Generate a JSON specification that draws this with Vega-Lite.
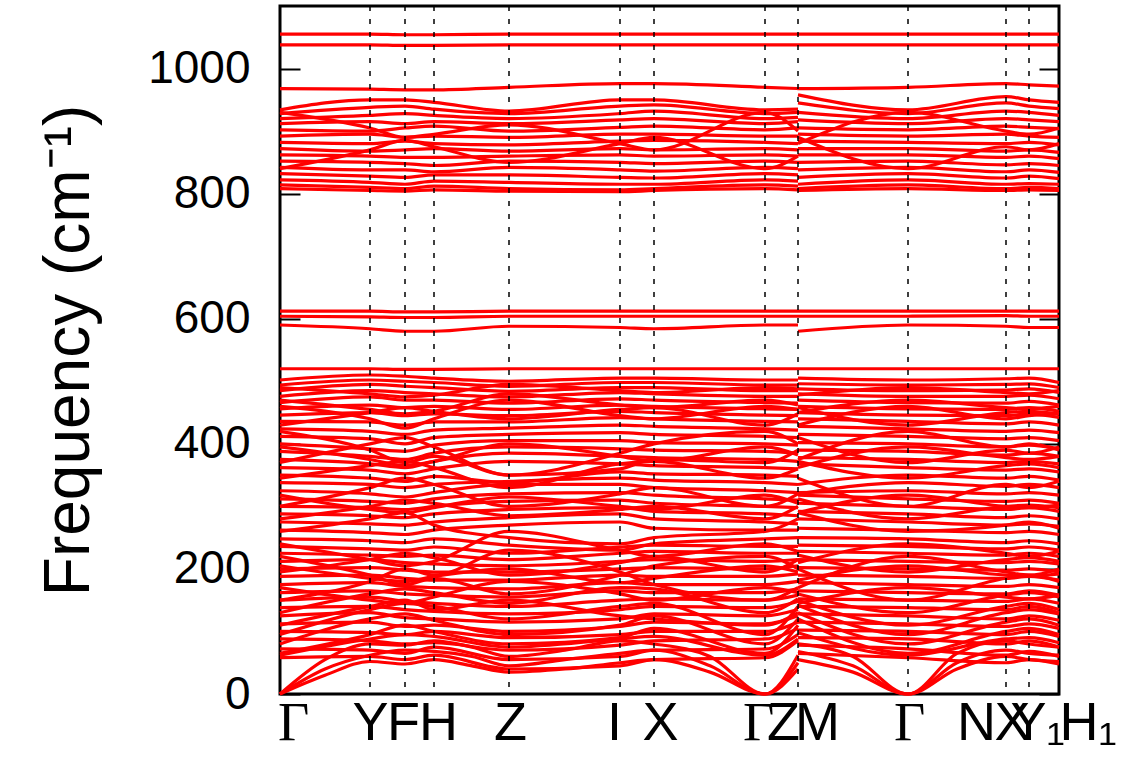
{
"$schema": "https://vega.github.io/schema/vega-lite/v6.json",
"width": 779,
"height": 688,
"autosize": {"type": "none"},
"padding": {"left": 280, "top": 6, "right": 66, "bottom": 74},
"background": "white",
"config": {"font": "Liberation Sans", "view": {"stroke": "black", "strokeWidth": 3}},
"datasets": {
"kp": [{"x":90},{"x":125},{"x":154},{"x":229},{"x":340},{"x":374},{"x":485},{"x":518},{"x":628},{"x":726},{"x":749}],
"bands": [
{"b":1,"x":0,"f":0},{"b":1,"x":45,"f":30},{"b":1,"x":90,"f":52},{"b":1,"x":125,"f":48},{"b":1,"x":154,"f":55},{"b":1,"x":192,"f":45},{"b":1,"x":229,"f":35},{"b":1,"x":285,"f":40},{"b":1,"x":340,"f":50},{"b":1,"x":374,"f":55},{"b":1,"x":430,"f":35},{"b":1,"x":485,"f":0},{"b":1,"x":518,"f":40},
{"b":101,"x":518,"f":55},{"b":101,"x":573,"f":35},{"b":101,"x":628,"f":0},{"b":101,"x":677,"f":40},{"b":101,"x":726,"f":60},{"b":101,"x":749,"f":55},{"b":101,"x":779,"f":52},
{"b":2,"x":0,"f":0},{"b":2,"x":45,"f":40},{"b":2,"x":90,"f":62},{"b":2,"x":125,"f":70},{"b":2,"x":154,"f":68},{"b":2,"x":192,"f":60},{"b":2,"x":229,"f":45},{"b":2,"x":285,"f":55},{"b":2,"x":340,"f":65},{"b":2,"x":374,"f":70},{"b":2,"x":430,"f":45},{"b":2,"x":485,"f":0},{"b":2,"x":518,"f":50},
{"b":102,"x":518,"f":68},{"b":102,"x":573,"f":45},{"b":102,"x":628,"f":0},{"b":102,"x":677,"f":50},{"b":102,"x":726,"f":70},{"b":102,"x":749,"f":65},{"b":102,"x":779,"f":62},
{"b":3,"x":0,"f":0},{"b":3,"x":45,"f":55},{"b":3,"x":90,"f":80},{"b":3,"x":125,"f":78},{"b":3,"x":154,"f":85},{"b":3,"x":192,"f":75},{"b":3,"x":229,"f":60},{"b":3,"x":285,"f":70},{"b":3,"x":340,"f":85},{"b":3,"x":374,"f":80},{"b":3,"x":430,"f":60},{"b":3,"x":485,"f":0},{"b":3,"x":518,"f":62},
{"b":103,"x":518,"f":80},{"b":103,"x":573,"f":60},{"b":103,"x":628,"f":0},{"b":103,"x":677,"f":65},{"b":103,"x":726,"f":85},{"b":103,"x":749,"f":80},{"b":103,"x":779,"f":75},
{"b":4,"x":0,"f":58},{"b":4,"x":90,"f":60},{"b":4,"x":125,"f":55},{"b":4,"x":154,"f":62},{"b":4,"x":229,"f":40},{"b":4,"x":340,"f":45},{"b":4,"x":374,"f":55},{"b":4,"x":485,"f":58},{"b":4,"x":518,"f":85},{"b":104,"x":518,"f":65},{"b":104,"x":628,"f":58},{"b":104,"x":726,"f":50},{"b":104,"x":749,"f":55},{"b":104,"x":779,"f":48},
{"b":5,"x":0,"f":72},{"b":5,"x":90,"f":70},{"b":5,"x":125,"f":65},{"b":5,"x":154,"f":75},{"b":5,"x":229,"f":55},{"b":5,"x":340,"f":60},{"b":5,"x":374,"f":70},{"b":5,"x":485,"f":72},{"b":5,"x":518,"f":95},{"b":105,"x":518,"f":78},{"b":105,"x":628,"f":72},{"b":105,"x":726,"f":62},{"b":105,"x":749,"f":68},{"b":105,"x":779,"f":60},
{"b":6,"x":0,"f":88},{"b":6,"x":90,"f":85},{"b":6,"x":125,"f":80},{"b":6,"x":154,"f":82},{"b":6,"x":229,"f":70},{"b":6,"x":340,"f":78},{"b":6,"x":374,"f":85},{"b":6,"x":485,"f":88},{"b":6,"x":518,"f":105},{"b":106,"x":518,"f":90},{"b":106,"x":628,"f":88},{"b":106,"x":726,"f":80},{"b":106,"x":749,"f":85},{"b":106,"x":779,"f":75},
{"b":7,"x":0,"f":100},{"b":7,"x":90,"f":98},{"b":7,"x":125,"f":95},{"b":7,"x":154,"f":100},{"b":7,"x":229,"f":90},{"b":7,"x":340,"f":95},{"b":7,"x":374,"f":100},{"b":7,"x":485,"f":100},{"b":7,"x":518,"f":115},{"b":107,"x":518,"f":102},{"b":107,"x":628,"f":100},{"b":107,"x":726,"f":95},{"b":107,"x":749,"f":100},{"b":107,"x":779,"f":92},
{"b":8,"x":0,"f":112},{"b":8,"x":90,"f":115},{"b":8,"x":125,"f":108},{"b":8,"x":154,"f":110},{"b":8,"x":229,"f":100},{"b":8,"x":340,"f":108},{"b":8,"x":374,"f":115},{"b":8,"x":485,"f":112},{"b":8,"x":518,"f":125},{"b":108,"x":518,"f":115},{"b":108,"x":628,"f":112},{"b":108,"x":726,"f":108},{"b":108,"x":749,"f":112},{"b":108,"x":779,"f":105},
{"b":9,"x":0,"f":125},{"b":9,"x":90,"f":130},{"b":9,"x":125,"f":122},{"b":9,"x":154,"f":120},{"b":9,"x":229,"f":115},{"b":9,"x":340,"f":120},{"b":9,"x":374,"f":128},{"b":9,"x":485,"f":125},{"b":9,"x":518,"f":135},{"b":109,"x":518,"f":128},{"b":109,"x":628,"f":125},{"b":109,"x":726,"f":120},{"b":109,"x":749,"f":125},{"b":109,"x":779,"f":118},
{"b":10,"x":0,"f":138},{"b":10,"x":90,"f":140},{"b":10,"x":125,"f":135},{"b":10,"x":154,"f":132},{"b":10,"x":229,"f":128},{"b":10,"x":340,"f":135},{"b":10,"x":374,"f":140},{"b":10,"x":485,"f":138},{"b":10,"x":518,"f":148},{"b":110,"x":518,"f":140},{"b":110,"x":628,"f":138},{"b":110,"x":726,"f":135},{"b":110,"x":749,"f":140},{"b":110,"x":779,"f":130},
{"b":11,"x":0,"f":150},{"b":11,"x":90,"f":155},{"b":11,"x":125,"f":148},{"b":11,"x":154,"f":145},{"b":11,"x":229,"f":140},{"b":11,"x":340,"f":150},{"b":11,"x":374,"f":152},{"b":11,"x":485,"f":150},{"b":11,"x":518,"f":158},{"b":111,"x":518,"f":152},{"b":111,"x":628,"f":150},{"b":111,"x":726,"f":148},{"b":111,"x":749,"f":152},{"b":111,"x":779,"f":145},
{"b":12,"x":0,"f":162},{"b":12,"x":90,"f":165},{"b":12,"x":125,"f":160},{"b":12,"x":154,"f":158},{"b":12,"x":229,"f":155},{"b":12,"x":340,"f":165},{"b":12,"x":374,"f":162},{"b":12,"x":485,"f":162},{"b":12,"x":518,"f":168},{"b":112,"x":518,"f":165},{"b":112,"x":628,"f":162},{"b":112,"x":726,"f":160},{"b":112,"x":749,"f":165},{"b":112,"x":779,"f":158},
{"b":13,"x":0,"f":175},{"b":13,"x":90,"f":178},{"b":13,"x":125,"f":172},{"b":13,"x":154,"f":170},{"b":13,"x":229,"f":168},{"b":13,"x":340,"f":178},{"b":13,"x":374,"f":175},{"b":13,"x":485,"f":175},{"b":13,"x":518,"f":180},{"b":113,"x":518,"f":178},{"b":113,"x":628,"f":175},{"b":113,"x":726,"f":172},{"b":113,"x":749,"f":175},{"b":113,"x":779,"f":170},
{"b":14,"x":0,"f":188},{"b":14,"x":90,"f":190},{"b":14,"x":125,"f":185},{"b":14,"x":154,"f":182},{"b":14,"x":229,"f":182},{"b":14,"x":340,"f":190},{"b":14,"x":374,"f":188},{"b":14,"x":485,"f":188},{"b":14,"x":518,"f":192},{"b":114,"x":518,"f":190},{"b":114,"x":628,"f":188},{"b":114,"x":726,"f":185},{"b":114,"x":749,"f":188},{"b":114,"x":779,"f":182},
{"b":15,"x":0,"f":200},{"b":15,"x":90,"f":202},{"b":15,"x":125,"f":198},{"b":15,"x":154,"f":195},{"b":15,"x":229,"f":195},{"b":15,"x":340,"f":200},{"b":15,"x":374,"f":202},{"b":15,"x":485,"f":200},{"b":15,"x":518,"f":205},{"b":115,"x":518,"f":202},{"b":115,"x":628,"f":200},{"b":115,"x":726,"f":198},{"b":115,"x":749,"f":200},{"b":115,"x":779,"f":195},
{"b":16,"x":0,"f":212},{"b":16,"x":90,"f":215},{"b":16,"x":125,"f":210},{"b":16,"x":154,"f":208},{"b":16,"x":229,"f":205},{"b":16,"x":340,"f":212},{"b":16,"x":374,"f":215},{"b":16,"x":485,"f":212},{"b":16,"x":518,"f":215},{"b":116,"x":518,"f":215},{"b":116,"x":628,"f":212},{"b":116,"x":726,"f":210},{"b":116,"x":749,"f":212},{"b":116,"x":779,"f":208},
{"b":17,"x":0,"f":225},{"b":17,"x":90,"f":222},{"b":17,"x":125,"f":220},{"b":17,"x":154,"f":222},{"b":17,"x":229,"f":215},{"b":17,"x":340,"f":225},{"b":17,"x":374,"f":228},{"b":17,"x":485,"f":225},{"b":17,"x":518,"f":225},{"b":117,"x":518,"f":228},{"b":117,"x":628,"f":225},{"b":117,"x":726,"f":222},{"b":117,"x":749,"f":225},{"b":117,"x":779,"f":220},
{"b":18,"x":0,"f":236},{"b":18,"x":90,"f":232},{"b":18,"x":125,"f":230},{"b":18,"x":154,"f":235},{"b":18,"x":229,"f":225},{"b":18,"x":340,"f":235},{"b":18,"x":374,"f":238},{"b":18,"x":485,"f":236},{"b":18,"x":518,"f":236},{"b":118,"x":518,"f":238},{"b":118,"x":628,"f":236},{"b":118,"x":726,"f":232},{"b":118,"x":749,"f":235},{"b":118,"x":779,"f":230},
{"b":19,"x":0,"f":248},{"b":19,"x":90,"f":245},{"b":19,"x":125,"f":242},{"b":19,"x":154,"f":248},{"b":19,"x":229,"f":238},{"b":19,"x":340,"f":230},{"b":19,"x":374,"f":240},{"b":19,"x":485,"f":248},{"b":19,"x":518,"f":250},{"b":119,"x":518,"f":250},{"b":119,"x":628,"f":248},{"b":119,"x":726,"f":242},{"b":119,"x":749,"f":245},{"b":119,"x":779,"f":240},
{"b":20,"x":0,"f":262},{"b":20,"x":90,"f":258},{"b":20,"x":125,"f":255},{"b":20,"x":154,"f":262},{"b":20,"x":229,"f":270},{"b":20,"x":340,"f":275},{"b":20,"x":374,"f":265},{"b":20,"x":485,"f":262},{"b":20,"x":518,"f":262},{"b":120,"x":518,"f":265},{"b":120,"x":628,"f":262},{"b":120,"x":726,"f":258},{"b":120,"x":749,"f":260},{"b":120,"x":779,"f":255},
{"b":21,"x":0,"f":275},{"b":21,"x":90,"f":272},{"b":21,"x":125,"f":270},{"b":21,"x":154,"f":275},{"b":21,"x":229,"f":282},{"b":21,"x":340,"f":288},{"b":21,"x":374,"f":280},{"b":21,"x":485,"f":275},{"b":21,"x":518,"f":272},{"b":121,"x":518,"f":280},{"b":121,"x":628,"f":275},{"b":121,"x":726,"f":270},{"b":121,"x":749,"f":272},{"b":121,"x":779,"f":268},
{"b":22,"x":0,"f":288},{"b":22,"x":90,"f":285},{"b":22,"x":125,"f":282},{"b":22,"x":154,"f":288},{"b":22,"x":229,"f":295},{"b":22,"x":340,"f":298},{"b":22,"x":374,"f":292},{"b":22,"x":485,"f":288},{"b":22,"x":518,"f":285},{"b":122,"x":518,"f":292},{"b":122,"x":628,"f":288},{"b":122,"x":726,"f":282},{"b":122,"x":749,"f":285},{"b":122,"x":779,"f":280},
{"b":23,"x":0,"f":300},{"b":23,"x":90,"f":298},{"b":23,"x":125,"f":295},{"b":23,"x":154,"f":300},{"b":23,"x":229,"f":308},{"b":23,"x":340,"f":310},{"b":23,"x":374,"f":305},{"b":23,"x":485,"f":300},{"b":23,"x":518,"f":298},{"b":123,"x":518,"f":305},{"b":123,"x":628,"f":300},{"b":123,"x":726,"f":295},{"b":123,"x":749,"f":298},{"b":123,"x":779,"f":292},
{"b":24,"x":0,"f":312},{"b":24,"x":90,"f":308},{"b":24,"x":125,"f":305},{"b":24,"x":154,"f":312},{"b":24,"x":229,"f":320},{"b":24,"x":340,"f":322},{"b":24,"x":374,"f":318},{"b":24,"x":485,"f":312},{"b":24,"x":518,"f":310},{"b":124,"x":518,"f":318},{"b":124,"x":628,"f":312},{"b":124,"x":726,"f":308},{"b":124,"x":749,"f":310},{"b":124,"x":779,"f":305},
{"b":25,"x":0,"f":325},{"b":25,"x":90,"f":320},{"b":25,"x":125,"f":315},{"b":25,"x":154,"f":322},{"b":25,"x":229,"f":335},{"b":25,"x":340,"f":335},{"b":25,"x":374,"f":330},{"b":25,"x":485,"f":325},{"b":25,"x":518,"f":322},{"b":125,"x":518,"f":322},{"b":125,"x":628,"f":325},{"b":125,"x":726,"f":320},{"b":125,"x":749,"f":322},{"b":125,"x":779,"f":318},
{"b":26,"x":0,"f":338},{"b":26,"x":90,"f":335},{"b":26,"x":125,"f":330},{"b":26,"x":154,"f":335},{"b":26,"x":229,"f":340},{"b":26,"x":340,"f":345},{"b":26,"x":374,"f":342},{"b":26,"x":485,"f":338},{"b":26,"x":518,"f":335},{"b":126,"x":518,"f":320},{"b":126,"x":628,"f":338},{"b":126,"x":726,"f":332},{"b":126,"x":749,"f":335},{"b":126,"x":779,"f":330},
{"b":27,"x":0,"f":350},{"b":27,"x":90,"f":345},{"b":27,"x":125,"f":340},{"b":27,"x":154,"f":348},{"b":27,"x":229,"f":338},{"b":27,"x":340,"f":355},{"b":27,"x":374,"f":352},{"b":27,"x":485,"f":350},{"b":27,"x":518,"f":348},{"b":127,"x":518,"f":335},{"b":127,"x":628,"f":350},{"b":127,"x":726,"f":345},{"b":127,"x":749,"f":348},{"b":127,"x":779,"f":342},
{"b":28,"x":0,"f":362},{"b":28,"x":90,"f":358},{"b":28,"x":125,"f":352},{"b":28,"x":154,"f":360},{"b":28,"x":229,"f":372},{"b":28,"x":340,"f":368},{"b":28,"x":374,"f":365},{"b":28,"x":485,"f":362},{"b":28,"x":518,"f":360},{"b":128,"x":518,"f":368},{"b":128,"x":628,"f":362},{"b":128,"x":726,"f":358},{"b":128,"x":749,"f":360},{"b":128,"x":779,"f":355},
{"b":29,"x":0,"f":375},{"b":29,"x":90,"f":368},{"b":29,"x":125,"f":362},{"b":29,"x":154,"f":372},{"b":29,"x":229,"f":385},{"b":29,"x":340,"f":380},{"b":29,"x":374,"f":378},{"b":29,"x":485,"f":375},{"b":29,"x":518,"f":372},{"b":129,"x":518,"f":378},{"b":129,"x":628,"f":375},{"b":129,"x":726,"f":370},{"b":129,"x":749,"f":372},{"b":129,"x":779,"f":368},
{"b":30,"x":0,"f":388},{"b":30,"x":90,"f":380},{"b":30,"x":125,"f":375},{"b":30,"x":154,"f":385},{"b":30,"x":229,"f":395},{"b":30,"x":340,"f":392},{"b":30,"x":374,"f":390},{"b":30,"x":485,"f":388},{"b":30,"x":518,"f":385},{"b":130,"x":518,"f":390},{"b":130,"x":628,"f":388},{"b":130,"x":726,"f":382},{"b":130,"x":749,"f":385},{"b":130,"x":779,"f":380},
{"b":31,"x":0,"f":400},{"b":31,"x":90,"f":392},{"b":31,"x":125,"f":388},{"b":31,"x":154,"f":398},{"b":31,"x":229,"f":405},{"b":31,"x":340,"f":405},{"b":31,"x":374,"f":402},{"b":31,"x":485,"f":400},{"b":31,"x":518,"f":398},{"b":131,"x":518,"f":402},{"b":131,"x":628,"f":400},{"b":131,"x":726,"f":395},{"b":131,"x":749,"f":398},{"b":131,"x":779,"f":392},
{"b":32,"x":0,"f":412},{"b":32,"x":90,"f":408},{"b":32,"x":125,"f":400},{"b":32,"x":154,"f":410},{"b":32,"x":229,"f":415},{"b":32,"x":340,"f":418},{"b":32,"x":374,"f":415},{"b":32,"x":485,"f":412},{"b":32,"x":518,"f":410},{"b":132,"x":518,"f":415},{"b":132,"x":628,"f":412},{"b":132,"x":726,"f":408},{"b":132,"x":749,"f":410},{"b":132,"x":779,"f":405},
{"b":33,"x":0,"f":424},{"b":33,"x":90,"f":420},{"b":33,"x":125,"f":415},{"b":33,"x":154,"f":422},{"b":33,"x":229,"f":425},{"b":33,"x":340,"f":430},{"b":33,"x":374,"f":428},{"b":33,"x":485,"f":424},{"b":33,"x":518,"f":422},{"b":133,"x":518,"f":428},{"b":133,"x":628,"f":424},{"b":133,"x":726,"f":420},{"b":133,"x":749,"f":422},{"b":133,"x":779,"f":418},
{"b":34,"x":0,"f":436},{"b":34,"x":90,"f":435},{"b":34,"x":125,"f":430},{"b":34,"x":154,"f":435},{"b":34,"x":229,"f":435},{"b":34,"x":340,"f":442},{"b":34,"x":374,"f":440},{"b":34,"x":485,"f":436},{"b":34,"x":518,"f":435},{"b":134,"x":518,"f":440},{"b":134,"x":628,"f":436},{"b":134,"x":726,"f":432},{"b":134,"x":749,"f":435},{"b":134,"x":779,"f":430},
{"b":35,"x":0,"f":446},{"b":35,"x":90,"f":450},{"b":35,"x":125,"f":445},{"b":35,"x":154,"f":448},{"b":35,"x":229,"f":445},{"b":35,"x":340,"f":452},{"b":35,"x":374,"f":450},{"b":35,"x":485,"f":446},{"b":35,"x":518,"f":445},{"b":135,"x":518,"f":450},{"b":135,"x":628,"f":446},{"b":135,"x":726,"f":445},{"b":135,"x":749,"f":448},{"b":135,"x":779,"f":442},
{"b":36,"x":0,"f":456},{"b":36,"x":90,"f":462},{"b":36,"x":125,"f":458},{"b":36,"x":154,"f":460},{"b":36,"x":229,"f":455},{"b":36,"x":340,"f":462},{"b":36,"x":374,"f":460},{"b":36,"x":485,"f":456},{"b":36,"x":518,"f":455},{"b":136,"x":518,"f":460},{"b":136,"x":628,"f":456},{"b":136,"x":726,"f":455},{"b":136,"x":749,"f":458},{"b":136,"x":779,"f":452},
{"b":37,"x":0,"f":466},{"b":37,"x":90,"f":475},{"b":37,"x":125,"f":470},{"b":37,"x":154,"f":470},{"b":37,"x":229,"f":465},{"b":37,"x":340,"f":472},{"b":37,"x":374,"f":470},{"b":37,"x":485,"f":466},{"b":37,"x":518,"f":465},{"b":137,"x":518,"f":470},{"b":137,"x":628,"f":466},{"b":137,"x":726,"f":465},{"b":137,"x":749,"f":468},{"b":137,"x":779,"f":462},
{"b":38,"x":0,"f":476},{"b":38,"x":90,"f":485},{"b":38,"x":125,"f":482},{"b":38,"x":154,"f":480},{"b":38,"x":229,"f":475},{"b":38,"x":340,"f":482},{"b":38,"x":374,"f":480},{"b":38,"x":485,"f":476},{"b":38,"x":518,"f":476},{"b":138,"x":518,"f":480},{"b":138,"x":628,"f":476},{"b":138,"x":726,"f":476},{"b":138,"x":749,"f":478},{"b":138,"x":779,"f":472},
{"b":39,"x":0,"f":485},{"b":39,"x":90,"f":495},{"b":39,"x":125,"f":492},{"b":39,"x":154,"f":490},{"b":39,"x":229,"f":484},{"b":39,"x":340,"f":490},{"b":39,"x":374,"f":490},{"b":39,"x":485,"f":485},{"b":39,"x":518,"f":485},{"b":139,"x":518,"f":488},{"b":139,"x":628,"f":485},{"b":139,"x":726,"f":486},{"b":139,"x":749,"f":488},{"b":139,"x":779,"f":482},
{"b":40,"x":0,"f":494},{"b":40,"x":90,"f":502},{"b":40,"x":125,"f":500},{"b":40,"x":154,"f":498},{"b":40,"x":229,"f":492},{"b":40,"x":340,"f":498},{"b":40,"x":374,"f":498},{"b":40,"x":485,"f":494},{"b":40,"x":518,"f":494},{"b":140,"x":518,"f":496},{"b":140,"x":628,"f":494},{"b":140,"x":726,"f":495},{"b":140,"x":749,"f":496},{"b":140,"x":779,"f":490},
{"b":41,"x":0,"f":502},{"b":41,"x":90,"f":510},{"b":41,"x":125,"f":508},{"b":41,"x":154,"f":505},{"b":41,"x":229,"f":500},{"b":41,"x":340,"f":505},{"b":41,"x":374,"f":505},{"b":41,"x":485,"f":502},{"b":41,"x":518,"f":502},{"b":141,"x":518,"f":505},{"b":141,"x":628,"f":502},{"b":141,"x":726,"f":504},{"b":141,"x":749,"f":505},{"b":141,"x":779,"f":498},
{"b":42,"x":0,"f":150},{"b":42,"x":90,"f":180},{"b":42,"x":125,"f":200},{"b":42,"x":154,"f":190},{"b":42,"x":229,"f":230},{"b":42,"x":340,"f":195},{"b":42,"x":374,"f":175},{"b":42,"x":485,"f":150},{"b":42,"x":518,"f":170},{"b":142,"x":518,"f":200},{"b":142,"x":628,"f":150},{"b":142,"x":726,"f":185},{"b":142,"x":749,"f":190},{"b":142,"x":779,"f":180},
{"b":43,"x":0,"f":220},{"b":43,"x":90,"f":190},{"b":43,"x":125,"f":175},{"b":43,"x":154,"f":185},{"b":43,"x":229,"f":160},{"b":43,"x":340,"f":190},{"b":43,"x":374,"f":205},{"b":43,"x":485,"f":220},{"b":43,"x":518,"f":200},{"b":143,"x":518,"f":170},{"b":143,"x":628,"f":220},{"b":143,"x":726,"f":195},{"b":143,"x":749,"f":190},{"b":143,"x":779,"f":200},
{"b":44,"x":0,"f":300},{"b":44,"x":90,"f":330},{"b":44,"x":125,"f":345},{"b":44,"x":154,"f":335},{"b":44,"x":229,"f":300},{"b":44,"x":340,"f":320},{"b":44,"x":374,"f":330},{"b":44,"x":485,"f":300},{"b":44,"x":518,"f":320},{"b":144,"x":518,"f":345},{"b":144,"x":628,"f":300},{"b":144,"x":726,"f":335},{"b":144,"x":749,"f":330},{"b":144,"x":779,"f":340},
{"b":45,"x":0,"f":420},{"b":45,"x":90,"f":390},{"b":45,"x":125,"f":370},{"b":45,"x":154,"f":380},{"b":45,"x":229,"f":350},{"b":45,"x":340,"f":385},{"b":45,"x":374,"f":400},{"b":45,"x":485,"f":420},{"b":45,"x":518,"f":400},{"b":145,"x":518,"f":375},{"b":145,"x":628,"f":420},{"b":145,"x":726,"f":395},{"b":145,"x":749,"f":400},{"b":145,"x":779,"f":390},
{"b":46,"x":0,"f":110},{"b":46,"x":90,"f":140},{"b":46,"x":125,"f":150},{"b":46,"x":154,"f":135},{"b":46,"x":229,"f":150},{"b":46,"x":340,"f":125},{"b":46,"x":374,"f":120},{"b":46,"x":485,"f":110},{"b":46,"x":518,"f":130},{"b":146,"x":518,"f":150},{"b":146,"x":628,"f":110},{"b":146,"x":726,"f":140},{"b":146,"x":749,"f":145},{"b":146,"x":779,"f":135},
{"b":47,"x":0,"f":460},{"b":47,"x":90,"f":440},{"b":47,"x":125,"f":425},{"b":47,"x":154,"f":440},{"b":47,"x":229,"f":470},{"b":47,"x":340,"f":445},{"b":47,"x":374,"f":440},{"b":47,"x":485,"f":460},{"b":47,"x":518,"f":455},{"b":147,"x":518,"f":430},{"b":147,"x":628,"f":460},{"b":147,"x":726,"f":440},{"b":147,"x":749,"f":445},{"b":147,"x":779,"f":448},
{"b":48,"x":0,"f":370},{"b":48,"x":90,"f":400},{"b":48,"x":125,"f":410},{"b":48,"x":154,"f":395},{"b":48,"x":229,"f":350},{"b":48,"x":340,"f":360},{"b":48,"x":374,"f":375},{"b":48,"x":485,"f":370},{"b":48,"x":518,"f":390},{"b":148,"x":518,"f":410},{"b":148,"x":628,"f":370},{"b":148,"x":726,"f":390},{"b":148,"x":749,"f":385},{"b":148,"x":779,"f":395},
{"b":49,"x":0,"f":260},{"b":49,"x":90,"f":280},{"b":49,"x":125,"f":290},{"b":49,"x":154,"f":270},{"b":49,"x":229,"f":250},{"b":49,"x":340,"f":240},{"b":49,"x":374,"f":250},{"b":49,"x":485,"f":260},{"b":49,"x":518,"f":280},{"b":149,"x":518,"f":290},{"b":149,"x":628,"f":260},{"b":149,"x":726,"f":270},{"b":149,"x":749,"f":275},{"b":149,"x":779,"f":265},
{"b":50,"x":0,"f":612},{"b":50,"x":90,"f":612},{"b":50,"x":125,"f":611},{"b":50,"x":154,"f":611},{"b":50,"x":229,"f":612},{"b":50,"x":340,"f":612},{"b":50,"x":374,"f":612},{"b":50,"x":485,"f":612},{"b":50,"x":518,"f":612},{"b":150,"x":518,"f":612},{"b":150,"x":628,"f":612},{"b":150,"x":726,"f":612},{"b":150,"x":749,"f":612},{"b":150,"x":779,"f":612},
{"b":51,"x":0,"f":604},{"b":51,"x":90,"f":603},{"b":51,"x":125,"f":602},{"b":51,"x":154,"f":602},{"b":51,"x":229,"f":604},{"b":51,"x":340,"f":604},{"b":51,"x":374,"f":604},{"b":51,"x":485,"f":604},{"b":51,"x":518,"f":604},{"b":151,"x":518,"f":604},{"b":151,"x":628,"f":604},{"b":151,"x":726,"f":605},{"b":151,"x":749,"f":604},{"b":151,"x":779,"f":604},
{"b":52,"x":0,"f":590},{"b":52,"x":90,"f":584},{"b":52,"x":125,"f":580},{"b":52,"x":154,"f":580},{"b":52,"x":229,"f":588},{"b":52,"x":340,"f":586},{"b":52,"x":374,"f":584},{"b":52,"x":485,"f":590},{"b":52,"x":518,"f":590},{"b":152,"x":518,"f":580},{"b":152,"x":628,"f":590},{"b":152,"x":726,"f":588},{"b":152,"x":749,"f":586},{"b":152,"x":779,"f":586},
{"b":53,"x":0,"f":520},{"b":53,"x":90,"f":520},{"b":53,"x":125,"f":519},{"b":53,"x":154,"f":519},{"b":53,"x":229,"f":520},{"b":53,"x":340,"f":520},{"b":53,"x":374,"f":520},{"b":53,"x":485,"f":520},{"b":53,"x":518,"f":520},{"b":153,"x":518,"f":520},{"b":153,"x":628,"f":520},{"b":153,"x":726,"f":520},{"b":153,"x":749,"f":520},{"b":153,"x":779,"f":520},
{"b":54,"x":0,"f":1055},{"b":54,"x":90,"f":1055},{"b":54,"x":125,"f":1054},{"b":54,"x":154,"f":1054},{"b":54,"x":229,"f":1055},{"b":54,"x":340,"f":1055},{"b":54,"x":374,"f":1055},{"b":54,"x":485,"f":1055},{"b":54,"x":518,"f":1055},{"b":154,"x":518,"f":1055},{"b":154,"x":628,"f":1055},{"b":154,"x":726,"f":1055},{"b":154,"x":749,"f":1055},{"b":154,"x":779,"f":1055},
{"b":55,"x":0,"f":1038},{"b":55,"x":90,"f":1038},{"b":55,"x":125,"f":1037},{"b":55,"x":154,"f":1037},{"b":55,"x":229,"f":1038},{"b":55,"x":340,"f":1038},{"b":55,"x":374,"f":1038},{"b":55,"x":485,"f":1038},{"b":55,"x":518,"f":1038},{"b":155,"x":518,"f":1038},{"b":155,"x":628,"f":1038},{"b":155,"x":726,"f":1038},{"b":155,"x":749,"f":1038},{"b":155,"x":779,"f":1038},
{"b":56,"x":0,"f":968},{"b":56,"x":90,"f":967},{"b":56,"x":125,"f":966},{"b":56,"x":154,"f":966},{"b":56,"x":229,"f":970},{"b":56,"x":340,"f":976},{"b":56,"x":374,"f":976},{"b":56,"x":485,"f":970},{"b":56,"x":518,"f":968},{"b":156,"x":518,"f":968},{"b":156,"x":628,"f":970},{"b":156,"x":726,"f":976},{"b":156,"x":749,"f":974},{"b":156,"x":779,"f":972},
{"b":57,"x":0,"f":934},{"b":57,"x":90,"f":950},{"b":57,"x":125,"f":950},{"b":57,"x":154,"f":946},{"b":57,"x":229,"f":932},{"b":57,"x":340,"f":950},{"b":57,"x":374,"f":950},{"b":57,"x":485,"f":934},{"b":57,"x":518,"f":935},{"b":157,"x":518,"f":958},{"b":157,"x":628,"f":934},{"b":157,"x":726,"f":955},{"b":157,"x":749,"f":950},{"b":157,"x":779,"f":946},
{"b":58,"x":0,"f":928},{"b":58,"x":90,"f":938},{"b":58,"x":125,"f":940},{"b":58,"x":154,"f":935},{"b":58,"x":229,"f":928},{"b":58,"x":340,"f":940},{"b":58,"x":374,"f":942},{"b":58,"x":485,"f":928},{"b":58,"x":518,"f":930},{"b":158,"x":518,"f":945},{"b":158,"x":628,"f":928},{"b":158,"x":726,"f":945},{"b":158,"x":749,"f":940},{"b":158,"x":779,"f":936},
{"b":59,"x":0,"f":920},{"b":59,"x":90,"f":925},{"b":59,"x":125,"f":928},{"b":59,"x":154,"f":925},{"b":59,"x":229,"f":920},{"b":59,"x":340,"f":928},{"b":59,"x":374,"f":932},{"b":59,"x":485,"f":920},{"b":59,"x":518,"f":922},{"b":159,"x":518,"f":930},{"b":159,"x":628,"f":920},{"b":159,"x":726,"f":932},{"b":159,"x":749,"f":930},{"b":159,"x":779,"f":925},
{"b":60,"x":0,"f":912},{"b":60,"x":90,"f":915},{"b":60,"x":125,"f":912},{"b":60,"x":154,"f":915},{"b":60,"x":229,"f":912},{"b":60,"x":340,"f":918},{"b":60,"x":374,"f":920},{"b":60,"x":485,"f":912},{"b":60,"x":518,"f":915},{"b":160,"x":518,"f":918},{"b":160,"x":628,"f":912},{"b":160,"x":726,"f":920},{"b":160,"x":749,"f":918},{"b":160,"x":779,"f":915},
{"b":61,"x":0,"f":902},{"b":61,"x":90,"f":900},{"b":61,"x":125,"f":905},{"b":61,"x":154,"f":908},{"b":61,"x":229,"f":900},{"b":61,"x":340,"f":906},{"b":61,"x":374,"f":908},{"b":61,"x":485,"f":902},{"b":61,"x":518,"f":905},{"b":161,"x":518,"f":905},{"b":161,"x":628,"f":902},{"b":161,"x":726,"f":908},{"b":161,"x":749,"f":906},{"b":161,"x":779,"f":904},
{"b":62,"x":0,"f":892},{"b":62,"x":90,"f":895},{"b":62,"x":125,"f":890},{"b":62,"x":154,"f":892},{"b":62,"x":229,"f":890},{"b":62,"x":340,"f":895},{"b":62,"x":374,"f":895},{"b":62,"x":485,"f":892},{"b":62,"x":518,"f":892},{"b":162,"x":518,"f":895},{"b":162,"x":628,"f":892},{"b":162,"x":726,"f":895},{"b":162,"x":749,"f":892},{"b":162,"x":779,"f":890},
{"b":63,"x":0,"f":882},{"b":63,"x":90,"f":880},{"b":63,"x":125,"f":884},{"b":63,"x":154,"f":880},{"b":63,"x":229,"f":878},{"b":63,"x":340,"f":884},{"b":63,"x":374,"f":885},{"b":63,"x":485,"f":882},{"b":63,"x":518,"f":880},{"b":163,"x":518,"f":884},{"b":163,"x":628,"f":882},{"b":163,"x":726,"f":880},{"b":163,"x":749,"f":882},{"b":163,"x":779,"f":878},
{"b":64,"x":0,"f":872},{"b":64,"x":90,"f":868},{"b":64,"x":125,"f":870},{"b":64,"x":154,"f":872},{"b":64,"x":229,"f":868},{"b":64,"x":340,"f":872},{"b":64,"x":374,"f":870},{"b":64,"x":485,"f":872},{"b":64,"x":518,"f":870},{"b":164,"x":518,"f":872},{"b":164,"x":628,"f":872},{"b":164,"x":726,"f":868},{"b":164,"x":749,"f":870},{"b":164,"x":779,"f":866},
{"b":65,"x":0,"f":862},{"b":65,"x":90,"f":860},{"b":65,"x":125,"f":858},{"b":65,"x":154,"f":858},{"b":65,"x":229,"f":860},{"b":65,"x":340,"f":862},{"b":65,"x":374,"f":860},{"b":65,"x":485,"f":862},{"b":65,"x":518,"f":860},{"b":165,"x":518,"f":862},{"b":165,"x":628,"f":862},{"b":165,"x":726,"f":858},{"b":165,"x":749,"f":860},{"b":165,"x":779,"f":856},
{"b":66,"x":0,"f":852},{"b":66,"x":90,"f":850},{"b":66,"x":125,"f":848},{"b":66,"x":154,"f":845},{"b":66,"x":229,"f":852},{"b":66,"x":340,"f":850},{"b":66,"x":374,"f":848},{"b":66,"x":485,"f":852},{"b":66,"x":518,"f":850},{"b":166,"x":518,"f":850},{"b":166,"x":628,"f":852},{"b":166,"x":726,"f":846},{"b":166,"x":749,"f":848},{"b":166,"x":779,"f":845},
{"b":67,"x":0,"f":842},{"b":67,"x":90,"f":838},{"b":67,"x":125,"f":838},{"b":67,"x":154,"f":835},{"b":67,"x":229,"f":842},{"b":67,"x":340,"f":838},{"b":67,"x":374,"f":836},{"b":67,"x":485,"f":842},{"b":67,"x":518,"f":840},{"b":167,"x":518,"f":838},{"b":167,"x":628,"f":842},{"b":167,"x":726,"f":835},{"b":167,"x":749,"f":838},{"b":167,"x":779,"f":834},
{"b":68,"x":0,"f":832},{"b":68,"x":90,"f":828},{"b":68,"x":125,"f":826},{"b":68,"x":154,"f":830},{"b":68,"x":229,"f":830},{"b":68,"x":340,"f":826},{"b":68,"x":374,"f":825},{"b":68,"x":485,"f":832},{"b":68,"x":518,"f":830},{"b":168,"x":518,"f":826},{"b":168,"x":628,"f":832},{"b":168,"x":726,"f":825},{"b":168,"x":749,"f":828},{"b":168,"x":779,"f":824},
{"b":69,"x":0,"f":822},{"b":69,"x":90,"f":818},{"b":69,"x":125,"f":815},{"b":69,"x":154,"f":820},{"b":69,"x":229,"f":818},{"b":69,"x":340,"f":815},{"b":69,"x":374,"f":815},{"b":69,"x":485,"f":822},{"b":69,"x":518,"f":820},{"b":169,"x":518,"f":815},{"b":169,"x":628,"f":822},{"b":169,"x":726,"f":815},{"b":169,"x":749,"f":816},{"b":169,"x":779,"f":815},
{"b":70,"x":0,"f":814},{"b":70,"x":90,"f":810},{"b":70,"x":125,"f":808},{"b":70,"x":154,"f":812},{"b":70,"x":229,"f":808},{"b":70,"x":340,"f":806},{"b":70,"x":374,"f":808},{"b":70,"x":485,"f":814},{"b":70,"x":518,"f":812},{"b":170,"x":518,"f":808},{"b":170,"x":628,"f":814},{"b":170,"x":726,"f":808},{"b":170,"x":749,"f":810},{"b":170,"x":779,"f":808},
{"b":71,"x":0,"f":808},{"b":71,"x":90,"f":805},{"b":71,"x":125,"f":804},{"b":71,"x":154,"f":806},{"b":71,"x":229,"f":804},{"b":71,"x":340,"f":803},{"b":71,"x":374,"f":805},{"b":71,"x":485,"f":808},{"b":71,"x":518,"f":806},{"b":171,"x":518,"f":805},{"b":171,"x":628,"f":808},{"b":171,"x":726,"f":805},{"b":171,"x":749,"f":806},{"b":171,"x":779,"f":805},
{"b":72,"x":0,"f":930},{"b":72,"x":90,"f":905},{"b":72,"x":125,"f":890},{"b":72,"x":154,"f":895},{"b":72,"x":229,"f":910},{"b":72,"x":340,"f":880},{"b":72,"x":374,"f":870},{"b":72,"x":485,"f":930},{"b":72,"x":518,"f":900},{"b":172,"x":518,"f":880},{"b":172,"x":628,"f":930},{"b":172,"x":726,"f":900},{"b":172,"x":749,"f":895},{"b":172,"x":779,"f":905},
{"b":73,"x":0,"f":840},{"b":73,"x":90,"f":870},{"b":73,"x":125,"f":885},{"b":73,"x":154,"f":875},{"b":73,"x":229,"f":850},{"b":73,"x":340,"f":880},{"b":73,"x":374,"f":890},{"b":73,"x":485,"f":840},{"b":73,"x":518,"f":860},{"b":173,"x":518,"f":890},{"b":173,"x":628,"f":840},{"b":173,"x":726,"f":875},{"b":173,"x":749,"f":870},{"b":173,"x":779,"f":880},
{"b":74,"x":0,"f":65},{"b":74,"x":90,"f":95},{"b":74,"x":125,"f":110},{"b":74,"x":154,"f":100},{"b":74,"x":229,"f":80},{"b":74,"x":340,"f":90},{"b":74,"x":374,"f":105},{"b":74,"x":485,"f":65},{"b":74,"x":518,"f":110},{"b":174,"x":518,"f":120},{"b":174,"x":628,"f":65},{"b":174,"x":726,"f":100},{"b":174,"x":749,"f":105},{"b":174,"x":779,"f":95},
{"b":75,"x":0,"f":80},{"b":75,"x":90,"f":120},{"b":75,"x":125,"f":128},{"b":75,"x":154,"f":118},{"b":75,"x":229,"f":95},{"b":75,"x":340,"f":110},{"b":75,"x":374,"f":125},{"b":75,"x":485,"f":80},{"b":75,"x":518,"f":120},{"b":175,"x":518,"f":130},{"b":175,"x":628,"f":80},{"b":175,"x":726,"f":115},{"b":175,"x":749,"f":120},{"b":175,"x":779,"f":110},
{"b":76,"x":0,"f":95},{"b":76,"x":90,"f":135},{"b":76,"x":125,"f":145},{"b":76,"x":154,"f":140},{"b":76,"x":229,"f":120},{"b":76,"x":340,"f":140},{"b":76,"x":374,"f":145},{"b":76,"x":485,"f":95},{"b":76,"x":518,"f":140},{"b":176,"x":518,"f":142},{"b":176,"x":628,"f":95},{"b":176,"x":726,"f":130},{"b":176,"x":749,"f":135},{"b":176,"x":779,"f":128},
{"b":77,"x":0,"f":130},{"b":77,"x":90,"f":160},{"b":77,"x":125,"f":168},{"b":77,"x":154,"f":162},{"b":77,"x":229,"f":145},{"b":77,"x":340,"f":170},{"b":77,"x":374,"f":168},{"b":77,"x":485,"f":130},{"b":77,"x":518,"f":152},{"b":177,"x":518,"f":160},{"b":177,"x":628,"f":130},{"b":177,"x":726,"f":158},{"b":177,"x":749,"f":162},{"b":177,"x":779,"f":155},
{"b":78,"x":0,"f":170},{"b":78,"x":90,"f":150},{"b":78,"x":125,"f":145},{"b":78,"x":154,"f":155},{"b":78,"x":229,"f":180},{"b":78,"x":340,"f":160},{"b":78,"x":374,"f":150},{"b":78,"x":485,"f":170},{"b":78,"x":518,"f":162},{"b":178,"x":518,"f":145},{"b":178,"x":628,"f":170},{"b":178,"x":726,"f":155},{"b":178,"x":749,"f":152},{"b":178,"x":779,"f":158},
{"b":79,"x":0,"f":195},{"b":79,"x":90,"f":215},{"b":79,"x":125,"f":225},{"b":79,"x":154,"f":218},{"b":79,"x":229,"f":190},{"b":79,"x":340,"f":210},{"b":79,"x":374,"f":220},{"b":79,"x":485,"f":195},{"b":79,"x":518,"f":215},{"b":179,"x":518,"f":222},{"b":179,"x":628,"f":195},{"b":179,"x":726,"f":215},{"b":179,"x":749,"f":218},{"b":179,"x":779,"f":212},
{"b":80,"x":0,"f":240},{"b":80,"x":90,"f":215},{"b":80,"x":125,"f":205},{"b":80,"x":154,"f":212},{"b":80,"x":229,"f":260},{"b":80,"x":340,"f":230},{"b":80,"x":374,"f":220},{"b":80,"x":485,"f":240},{"b":80,"x":518,"f":228},{"b":180,"x":518,"f":210},{"b":180,"x":628,"f":240},{"b":180,"x":726,"f":225},{"b":180,"x":749,"f":220},{"b":180,"x":779,"f":228},
{"b":81,"x":0,"f":280},{"b":81,"x":90,"f":300},{"b":81,"x":125,"f":310},{"b":81,"x":154,"f":305},{"b":81,"x":229,"f":285},{"b":81,"x":340,"f":295},{"b":81,"x":374,"f":300},{"b":81,"x":485,"f":280},{"b":81,"x":518,"f":300},{"b":181,"x":518,"f":312},{"b":181,"x":628,"f":280},{"b":181,"x":726,"f":300},{"b":181,"x":749,"f":302},{"b":181,"x":779,"f":298},
{"b":82,"x":0,"f":318},{"b":82,"x":90,"f":295},{"b":82,"x":125,"f":290},{"b":82,"x":154,"f":298},{"b":82,"x":229,"f":315},{"b":82,"x":340,"f":300},{"b":82,"x":374,"f":295},{"b":82,"x":485,"f":318},{"b":82,"x":518,"f":305},{"b":182,"x":518,"f":290},{"b":182,"x":628,"f":318},{"b":182,"x":726,"f":300},{"b":182,"x":749,"f":298},{"b":182,"x":779,"f":302},
{"b":83,"x":0,"f":345},{"b":83,"x":90,"f":365},{"b":83,"x":125,"f":372},{"b":83,"x":154,"f":362},{"b":83,"x":229,"f":330},{"b":83,"x":340,"f":368},{"b":83,"x":374,"f":372},{"b":83,"x":485,"f":345},{"b":83,"x":518,"f":360},{"b":183,"x":518,"f":372},{"b":183,"x":628,"f":345},{"b":183,"x":726,"f":365},{"b":183,"x":749,"f":368},{"b":183,"x":779,"f":362},
{"b":84,"x":0,"f":395},{"b":84,"x":90,"f":375},{"b":84,"x":125,"f":365},{"b":84,"x":154,"f":372},{"b":84,"x":229,"f":400},{"b":84,"x":340,"f":380},{"b":84,"x":374,"f":372},{"b":84,"x":485,"f":395},{"b":84,"x":518,"f":382},{"b":184,"x":518,"f":362},{"b":184,"x":628,"f":395},{"b":184,"x":726,"f":378},{"b":184,"x":749,"f":375},{"b":184,"x":779,"f":380},
{"b":85,"x":0,"f":430},{"b":85,"x":90,"f":450},{"b":85,"x":125,"f":458},{"b":85,"x":154,"f":452},{"b":85,"x":229,"f":440},{"b":85,"x":340,"f":455},{"b":85,"x":374,"f":458},{"b":85,"x":485,"f":430},{"b":85,"x":518,"f":448},{"b":185,"x":518,"f":458},{"b":185,"x":628,"f":430},{"b":185,"x":726,"f":450},{"b":185,"x":749,"f":452},{"b":185,"x":779,"f":448},
{"b":86,"x":0,"f":470},{"b":86,"x":90,"f":455},{"b":86,"x":125,"f":448},{"b":86,"x":154,"f":452},{"b":86,"x":229,"f":480},{"b":86,"x":340,"f":462},{"b":86,"x":374,"f":458},{"b":86,"x":485,"f":470},{"b":86,"x":518,"f":462},{"b":186,"x":518,"f":450},{"b":186,"x":628,"f":470},{"b":186,"x":726,"f":458},{"b":186,"x":749,"f":456},{"b":186,"x":779,"f":460},
{"b":87,"x":0,"f":490},{"b":87,"x":90,"f":480},{"b":87,"x":125,"f":475},{"b":87,"x":154,"f":478},{"b":87,"x":229,"f":495},{"b":87,"x":340,"f":485},{"b":87,"x":374,"f":482},{"b":87,"x":485,"f":490},{"b":87,"x":518,"f":488},{"b":187,"x":518,"f":478},{"b":187,"x":628,"f":490},{"b":187,"x":726,"f":482},{"b":187,"x":749,"f":480},{"b":187,"x":779,"f":485},
{"b":88,"x":0,"f":62},{"b":88,"x":90,"f":88},{"b":88,"x":125,"f":95},{"b":88,"x":154,"f":92},{"b":88,"x":229,"f":75},{"b":88,"x":340,"f":88},{"b":88,"x":374,"f":92},{"b":88,"x":485,"f":62},{"b":88,"x":518,"f":88},{"b":188,"x":518,"f":98},{"b":188,"x":628,"f":62},{"b":188,"x":726,"f":88},{"b":188,"x":749,"f":90},{"b":188,"x":779,"f":82},
{"b":89,"x":0,"f":205},{"b":89,"x":90,"f":185},{"b":89,"x":125,"f":180},{"b":89,"x":154,"f":188},{"b":89,"x":229,"f":200},{"b":89,"x":340,"f":178},{"b":89,"x":374,"f":185},{"b":89,"x":485,"f":205},{"b":89,"x":518,"f":195},{"b":189,"x":518,"f":182},{"b":189,"x":628,"f":205},{"b":189,"x":726,"f":190},{"b":189,"x":749,"f":188},{"b":189,"x":779,"f":192}
]
},
"encoding": {
"x": {
"field": "x",
"type": "quantitative",
"scale": {"domain": [0, 779], "nice": false, "zero": false},
"axis": {
"values": [13, 90, 123, 158, 230, 334, 380, 478, 503, 537, 629, 696, 732, 757, 779],
"labelExpr": "datum.value == 13 || datum.value == 478 || datum.value == 629 ? 'Γ' : datum.value == 90 ? 'Y' : datum.value == 123 ? 'F' : datum.value == 158 ? 'H' : datum.value == 230 || datum.value == 503 ? 'Z' : datum.value == 334 ? 'I' : datum.value == 380 || datum.value == 732 ? 'X' : datum.value == 537 ? 'M' : datum.value == 696 ? 'N' : datum.value == 757 ? 'Y₁' : 'H₁'",
"title": null,
"ticks": false,
"domain": false,
"grid": false,
"labelFontSize": 54,
"labelColor": "black",
"labelPadding": 2,
"labelOverlap": false,
"labelBound": false,
"labelFlush": false,
"labelAlign": {"condition": {"test": "datum.value == 779", "value": "left"}, "value": "center"},
"labelFont": {"condition": {"test": "datum.value == 13 || datum.value == 478 || datum.value == 629", "value": "Liberation Serif"}, "value": "Liberation Sans"}
}
}
},
"layer": [
{
"data": {"name": "bands"},
"transform": [{"filter": "datum.f < 700"}],
"mark": {"type": "line", "color": "#ff0000", "strokeWidth": 3.2, "interpolate": "monotone"},
"encoding": {
"y": {
"field": "f",
"type": "quantitative",
"scale": {"domain": [0, 1100], "nice": false, "zero": false},
"axis": {
"values": [0, 200, 400, 600, 800, 1000],
"format": "d",
"title": "Frequency (cm⁻¹)",
"titleFontSize": 64,
"titleFontWeight": "normal",
"titleColor": "black",
"titlePadding": 46,
"labelFontSize": 46,
"labelColor": "black",
"labelPadding": 50,
"labelFlush": false,
"tickSize": -20,
"tickWidth": 2,
"tickColor": "black",
"domain": false,
"grid": false
}
},
"detail": {"field": "b"}
}
},
{
"data": {"name": "bands"},
"transform": [{"filter": "datum.f >= 700"}],
"mark": {"type": "line", "color": "#ff0000", "strokeWidth": 3.2, "interpolate": "monotone"},
"encoding": {
"y": {
"field": "f",
"type": "quantitative",
"scale": {"domain": [0, 1100], "nice": false, "zero": false},
"axis": {
"orient": "right",
"values": [0, 200, 400, 600, 800, 1000],
"labels": false,
"title": null,
"tickSize": -20,
"tickWidth": 2,
"tickColor": "black",
"domain": false,
"grid": false
}
},
"detail": {"field": "b"}
}
},
{
"data": {"name": "kp"},
"mark": {"type": "rule", "color": "black", "strokeWidth": 1.5, "strokeDash": [5, 8]},
"encoding": {}
}
],
"resolve": {"axis": {"y": "independent"}}
}
